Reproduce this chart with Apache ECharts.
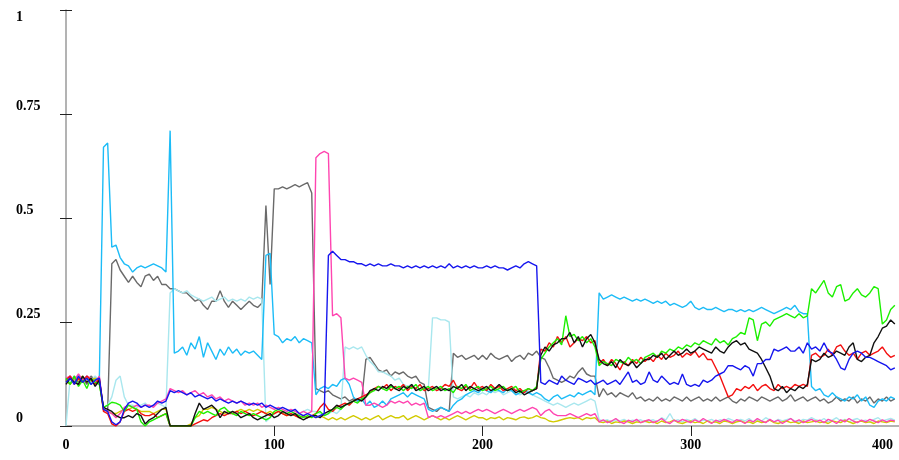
<!DOCTYPE html>
<html>
<head>
<meta charset="utf-8">
<script src="https://cdn.jsdelivr.net/npm/echarts@6/dist/echarts.min.js"></script>
<style>
  html, body { margin: 0; padding: 0; background: #ffffff; }
  #chart { width: 899px; height: 460px; }
</style>
</head>
<body>
<div id="chart"></div>
<script>
// Samples are taken every 2 steps, from step 0 to step 398.
const xStep = 2;
const xTickLabels = [0, 100, 200, 300, 400];
const yTickLabels = [0, 0.25, 0.5, 0.75, 1];

const skyBlue = [
  0.11,0.12,0.105,0.115,0.11,0.12,0.1,0.115,0.11,0.67,0.68,0.43,0.435,0.405,0.39,0.385,0.37,0.38,0.385,0.38,
  0.385,0.39,0.385,0.38,0.37,0.71,0.175,0.18,0.19,0.17,0.2,0.185,0.215,0.165,0.2,0.18,0.16,0.185,0.17,0.19,
  0.175,0.185,0.17,0.18,0.175,0.18,0.17,0.16,0.41,0.415,0.22,0.215,0.2,0.21,0.205,0.215,0.2,0.21,0.205,0.2,
  0.075,0.09,0.095,0.09,0.1,0.095,0.11,0.115,0.1,0.07,0.06,0.065,0.05,0.06,0.045,0.05,0.06,0.05,0.065,0.07,
  0.075,0.08,0.07,0.08,0.075,0.07,0.065,0.04,0.035,0.04,0.045,0.04,0.035,0.05,0.06,0.065,0.075,0.08,0.085,0.08,
  0.09,0.085,0.08,0.09,0.085,0.08,0.09,0.085,0.075,0.08,0.085,0.08,0.075,0.08,0.075,0.065,0.06,0.07,0.075,0.065,
  0.07,0.075,0.07,0.08,0.075,0.08,0.085,0.075,0.32,0.305,0.31,0.315,0.31,0.305,0.31,0.305,0.3,0.305,0.3,0.305,
  0.3,0.295,0.3,0.295,0.3,0.29,0.295,0.29,0.285,0.29,0.3,0.285,0.28,0.285,0.28,0.28,0.285,0.28,0.275,0.28,
  0.28,0.275,0.28,0.275,0.28,0.275,0.28,0.285,0.28,0.275,0.27,0.275,0.28,0.285,0.28,0.29,0.275,0.27,0.27,0.095,
  0.085,0.09,0.075,0.07,0.08,0.07,0.065,0.06,0.07,0.065,0.075,0.06,0.07,0.05,0.045,0.06,0.065,0.06,0.07,0.065
];

const grey = [
  0.11,0.1,0.12,0.105,0.115,0.1,0.12,0.11,0.105,0.04,0.035,0.39,0.4,0.375,0.36,0.345,0.36,0.345,0.335,0.36,
  0.365,0.35,0.36,0.34,0.34,0.33,0.33,0.325,0.32,0.32,0.31,0.3,0.305,0.29,0.28,0.3,0.3,0.325,0.3,0.285,
  0.3,0.29,0.28,0.29,0.3,0.29,0.285,0.295,0.53,0.34,0.57,0.57,0.575,0.57,0.575,0.58,0.575,0.58,0.585,0.56,
  0.09,0.085,0.08,0.085,0.075,0.07,0.065,0.07,0.06,0.065,0.06,0.065,0.16,0.165,0.15,0.135,0.13,0.135,0.12,0.13,
  0.125,0.13,0.12,0.115,0.12,0.105,0.1,0.045,0.04,0.035,0.045,0.04,0.035,0.175,0.165,0.17,0.16,0.165,0.17,0.16,
  0.17,0.16,0.175,0.165,0.16,0.165,0.17,0.155,0.165,0.17,0.16,0.175,0.17,0.18,0.165,0.16,0.14,0.115,0.11,0.105,
  0.11,0.12,0.115,0.13,0.14,0.125,0.12,0.12,0.07,0.09,0.075,0.08,0.07,0.08,0.075,0.07,0.08,0.065,0.07,0.06,
  0.065,0.06,0.07,0.06,0.065,0.06,0.07,0.065,0.06,0.07,0.06,0.065,0.07,0.06,0.065,0.06,0.07,0.06,0.065,0.07,
  0.06,0.055,0.065,0.06,0.07,0.065,0.06,0.07,0.065,0.06,0.065,0.07,0.06,0.065,0.075,0.06,0.065,0.07,0.06,0.065,
  0.07,0.06,0.065,0.055,0.06,0.07,0.06,0.065,0.06,0.07,0.055,0.065,0.06,0.07,0.055,0.065,0.06,0.07,0.06,0.065
];

const paleCyan = [
  0,0.115,0.11,0.12,0.105,0.115,0.11,0.12,0.11,0.045,0.05,0.07,0.11,0.12,0.07,0.05,0.05,0.045,0.05,0.055,
  0.045,0.05,0.055,0.05,0.045,0.32,0.33,0.325,0.32,0.325,0.315,0.31,0.305,0.3,0.305,0.31,0.3,0.305,0.31,0.3,
  0.305,0.3,0.305,0.3,0.31,0.305,0.31,0.305,0.01,0.02,0.03,0.035,0.03,0.035,0.03,0.035,0.03,0.035,0.04,0.035,
  0.035,0.03,0.025,0.03,0.035,0.03,0.04,0.19,0.185,0.19,0.185,0.19,0.17,0.155,0.145,0.13,0.13,0.125,0.12,0.11,
  0.115,0.1,0.095,0.1,0.09,0.085,0.09,0.09,0.26,0.26,0.255,0.255,0.25,0.07,0.065,0.07,0.075,0.07,0.08,0.075,
  0.08,0.075,0.085,0.08,0.085,0.075,0.08,0.085,0.08,0.075,0.08,0.085,0.075,0.07,0.065,0.06,0.055,0.05,0.055,0.05,
  0.045,0.05,0.055,0.05,0.055,0.06,0.065,0.06,0.015,0.012,0.015,0.01,0.015,0.012,0.016,0.01,0.014,0.012,0.015,0.01,
  0.012,0.015,0.01,0.02,0.014,0.03,0.012,0.015,0.01,0.016,0.012,0.018,0.01,0.014,0.012,0.016,0.01,0.015,0.012,0.018,
  0.014,0.01,0.016,0.012,0.018,0.01,0.015,0.012,0.02,0.014,0.01,0.016,0.012,0.015,0.018,0.012,0.01,0.016,0.014,0.02,
  0.015,0.012,0.018,0.01,0.014,0.02,0.012,0.016,0.01,0.015,0.018,0.012,0.014,0.01,0.016,0.02,0.012,0.015,0.018,0.014
];

const pink = [
  0.115,0.12,0.11,0.125,0.11,0.12,0.115,0.105,0.12,0.04,0.035,0.03,0.02,0.03,0.045,0.05,0.045,0.05,0.045,0.05,
  0.05,0.045,0.055,0.06,0.065,0.09,0.085,0.08,0.085,0.075,0.08,0.085,0.075,0.08,0.07,0.075,0.065,0.07,0.06,0.065,
  0.06,0.055,0.06,0.05,0.055,0.05,0.055,0.045,0.05,0.045,0.04,0.045,0.04,0.035,0.04,0.035,0.03,0.035,0.03,0.035,
  0.645,0.655,0.66,0.655,0.265,0.27,0.26,0.115,0.11,0.115,0.11,0.105,0.05,0.05,0.055,0.05,0.045,0.05,0.06,0.055,
  0.06,0.055,0.06,0.05,0.055,0.05,0.055,0.02,0.025,0.02,0.025,0.02,0.025,0.03,0.035,0.03,0.035,0.03,0.035,0.04,
  0.035,0.04,0.035,0.03,0.035,0.04,0.035,0.03,0.035,0.04,0.035,0.04,0.045,0.04,0.025,0.035,0.04,0.03,0.025,0.025,
  0.025,0.03,0.025,0.02,0.025,0.03,0.025,0.03,0.01,0.015,0.008,0.012,0.018,0.01,0.006,0.014,0.01,0.016,0.008,0.012,
  0.015,0.008,0.012,0.018,0.01,0.006,0.014,0.01,0.016,0.012,0.008,0.015,0.01,0.018,0.012,0.006,0.014,0.01,0.016,0.012,
  0.008,0.015,0.012,0.006,0.014,0.01,0.018,0.012,0.008,0.016,0.01,0.014,0.006,0.012,0.018,0.01,0.015,0.008,0.012,0.016,
  0.01,0.014,0.008,0.016,0.012,0.006,0.015,0.01,0.018,0.012,0.008,0.014,0.01,0.016,0.012,0.008,0.015,0.01,0.014,0.012
];

const blue = [
  0.105,0.115,0.1,0.12,0.105,0.115,0.1,0.11,0.115,0.04,0.035,0.01,0.003,0.01,0.04,0.055,0.06,0.055,0.045,0.05,
  0.045,0.05,0.06,0.055,0.06,0.085,0.08,0.085,0.08,0.075,0.08,0.07,0.075,0.07,0.065,0.07,0.06,0.065,0.06,0.055,
  0.06,0.055,0.06,0.055,0.05,0.055,0.05,0.055,0.045,0.05,0.045,0.04,0.045,0.04,0.035,0.04,0.03,0.025,0.03,0.025,
  0.02,0.025,0.03,0.41,0.42,0.41,0.4,0.4,0.395,0.395,0.39,0.39,0.385,0.39,0.385,0.39,0.385,0.385,0.39,0.385,
  0.385,0.38,0.385,0.38,0.385,0.38,0.385,0.38,0.385,0.38,0.385,0.38,0.39,0.38,0.385,0.38,0.385,0.38,0.385,0.38,
  0.38,0.385,0.38,0.385,0.38,0.38,0.375,0.38,0.385,0.38,0.39,0.395,0.39,0.385,0.105,0.1,0.11,0.105,0.1,0.12,
  0.11,0.105,0.1,0.115,0.11,0.105,0.11,0.1,0.105,0.11,0.1,0.105,0.11,0.1,0.115,0.13,0.105,0.11,0.1,0.105,
  0.13,0.11,0.105,0.12,0.11,0.1,0.105,0.1,0.125,0.1,0.095,0.1,0.095,0.11,0.105,0.11,0.12,0.125,0.13,0.145,
  0.145,0.14,0.135,0.145,0.14,0.12,0.15,0.15,0.16,0.16,0.185,0.18,0.185,0.19,0.18,0.18,0.19,0.175,0.2,0.185,
  0.19,0.18,0.2,0.18,0.175,0.16,0.14,0.135,0.16,0.175,0.18,0.175,0.165,0.165,0.16,0.155,0.15,0.145,0.135,0.14
];

const red = [
  0.11,0.12,0.1,0.115,0.105,0.12,0.11,0.1,0.115,0.035,0.03,0.005,0,0.01,0.035,0.04,0.035,0.04,0.03,0.025,
  0.025,0.03,0.02,0.025,0.03,0,0,0,0,0,0,0.005,0.01,0.015,0.012,0.02,0.025,0.03,0.025,0.03,
  0.03,0.035,0.03,0.035,0.03,0.025,0.03,0.035,0.03,0.025,0.03,0.035,0.03,0.025,0.03,0.025,0.02,0.025,0.02,0.025,
  0.03,0.045,0.055,0.04,0.035,0.045,0.05,0.055,0.05,0.06,0.065,0.07,0.075,0.08,0.09,0.095,0.09,0.1,0.085,0.095,
  0.09,0.1,0.085,0.095,0.09,0.1,0.085,0.09,0.095,0.085,0.09,0.1,0.095,0.11,0.09,0.085,0.095,0.09,0.105,0.09,
  0.095,0.085,0.1,0.09,0.095,0.085,0.09,0.095,0.085,0.09,0.08,0.09,0.085,0.09,0.185,0.18,0.2,0.19,0.215,0.2,
  0.215,0.19,0.2,0.21,0.205,0.215,0.2,0.205,0.15,0.16,0.145,0.16,0.15,0.135,0.155,0.145,0.16,0.15,0.165,0.155,
  0.165,0.155,0.17,0.16,0.175,0.165,0.17,0.18,0.165,0.175,0.17,0.18,0.165,0.175,0.16,0.16,0.14,0.12,0.095,0.07,
  0.075,0.09,0.085,0.095,0.09,0.1,0.085,0.095,0.1,0.09,0.085,0.1,0.09,0.095,0.09,0.1,0.095,0.1,0.095,0.17,
  0.175,0.165,0.17,0.185,0.17,0.19,0.195,0.18,0.17,0.175,0.16,0.175,0.18,0.17,0.175,0.18,0.19,0.175,0.165,0.17
];

const black = [
  0.1,0.115,0.105,0.1,0.12,0.105,0.115,0.095,0.11,0.045,0.04,0.035,0.025,0.02,0.02,0.025,0.02,0.03,0.025,0.005,
  0.015,0.02,0.03,0.04,0.045,0,0,0,0,0,0,0.03,0.055,0.04,0.045,0.05,0.04,0.02,0.035,0.03,
  0.035,0.03,0.02,0.025,0.03,0.02,0.015,0.02,0.025,0.03,0.02,0.025,0.035,0.03,0.025,0.03,0.02,0.015,0.02,0.025,
  0.025,0.02,0.03,0.035,0.04,0.05,0.045,0.05,0.055,0.06,0.065,0.06,0.07,0.085,0.09,0.085,0.095,0.09,0.1,0.09,
  0.085,0.095,0.09,0.1,0.085,0.09,0.095,0.085,0.09,0.095,0.085,0.09,0.085,0.095,0.09,0.1,0.085,0.095,0.09,0.085,
  0.09,0.095,0.085,0.09,0.1,0.09,0.085,0.09,0.08,0.085,0.075,0.08,0.085,0.09,0.17,0.19,0.18,0.195,0.2,0.21,
  0.21,0.225,0.2,0.215,0.19,0.21,0.22,0.2,0.16,0.15,0.145,0.155,0.14,0.16,0.15,0.145,0.155,0.14,0.15,0.16,
  0.16,0.17,0.165,0.175,0.16,0.17,0.18,0.17,0.175,0.185,0.175,0.18,0.19,0.185,0.18,0.175,0.19,0.18,0.175,0.19,
  0.2,0.205,0.195,0.2,0.185,0.18,0.175,0.16,0.14,0.12,0.09,0.085,0.095,0.08,0.09,0.085,0.095,0.09,0.1,0.16,
  0.155,0.16,0.175,0.165,0.17,0.18,0.175,0.17,0.19,0.2,0.16,0.155,0.165,0.17,0.2,0.215,0.235,0.24,0.255,0.245
];

const green = [
  0.115,0.1,0.12,0.095,0.11,0.09,0.115,0.105,0.1,0.045,0.05,0.057,0.055,0.05,0.035,0.05,0.045,0.04,0.01,0,
  0.01,0.015,0.02,0.025,0.03,0,0,0,0,0,0,0.02,0.035,0.03,0.035,0.03,0.025,0.04,0.045,0.035,
  0.03,0.025,0.035,0.03,0.025,0.03,0.025,0.02,0.015,0.02,0.035,0.04,0.035,0.03,0.035,0.03,0.025,0.02,0.025,0.02,
  0.03,0.035,0.025,0.03,0.04,0.045,0.04,0.05,0.055,0.06,0.055,0.065,0.07,0.08,0.085,0.095,0.09,0.085,0.095,0.09,
  0.095,0.085,0.095,0.09,0.1,0.085,0.09,0.095,0.085,0.09,0.095,0.085,0.09,0.08,0.095,0.09,0.1,0.085,0.09,0.095,
  0.085,0.09,0.095,0.085,0.09,0.095,0.085,0.09,0.095,0.08,0.085,0.09,0.085,0.095,0.16,0.175,0.19,0.2,0.21,0.195,
  0.265,0.215,0.22,0.205,0.215,0.2,0.21,0.19,0.145,0.155,0.15,0.145,0.16,0.155,0.15,0.165,0.155,0.16,0.15,0.165,
  0.17,0.175,0.165,0.18,0.175,0.185,0.18,0.19,0.185,0.195,0.19,0.2,0.195,0.205,0.2,0.195,0.21,0.2,0.205,0.195,
  0.21,0.215,0.225,0.22,0.26,0.255,0.205,0.245,0.25,0.24,0.255,0.26,0.265,0.27,0.265,0.26,0.27,0.26,0.265,0.33,
  0.32,0.335,0.35,0.32,0.31,0.335,0.34,0.3,0.305,0.32,0.33,0.315,0.31,0.32,0.335,0.33,0.245,0.255,0.28,0.29
];

const yellow = [
  0.11,0.1,0.115,0.11,0.12,0.105,0.11,0.115,0.105,0.04,0.035,0.03,0.03,0.035,0.04,0.04,0.045,0.04,0.035,0.035,
  0.035,0.03,0.035,0.04,0.04,0,0,0,0,0,0.005,0.02,0.025,0.04,0.04,0.045,0.04,0.035,0.03,0.035,
  0.03,0.035,0.04,0.035,0.04,0.035,0.04,0.035,0.03,0.035,0.03,0.035,0.03,0.025,0.03,0.025,0.02,0.025,0.02,0.025,
  0.02,0.025,0.02,0.015,0.02,0.015,0.02,0.015,0.02,0.025,0.02,0.015,0.02,0.015,0.02,0.025,0.015,0.02,0.025,0.02,
  0.02,0.025,0.015,0.02,0.025,0.02,0.015,0.02,0.025,0.02,0.015,0.02,0.015,0.02,0.025,0.02,0.015,0.02,0.025,0.02,
  0.02,0.015,0.02,0.018,0.022,0.015,0.02,0.018,0.015,0.02,0.022,0.018,0.02,0.025,0.02,0.018,0.012,0.01,0.012,0.015,
  0.018,0.02,0.018,0.02,0.015,0.02,0.018,0.02,0.01,0.008,0.012,0.006,0.01,0.008,0.012,0.01,0.006,0.01,0.008,0.012,
  0.008,0.01,0.006,0.012,0.008,0.01,0.014,0.008,0.006,0.01,0.012,0.008,0.01,0.006,0.012,0.008,0.01,0.006,0.012,0.01,
  0.006,0.01,0.012,0.008,0.01,0.006,0.012,0.008,0.01,0.014,0.008,0.006,0.01,0.012,0.008,0.01,0.006,0.012,0.008,0.01,
  0.012,0.008,0.01,0.006,0.012,0.01,0.008,0.014,0.01,0.006,0.01,0.012,0.008,0.01,0.006,0.012,0.01,0.008,0.012,0.01
];

// Drawing order: later entries are painted on top.
const lines = [
  { name: 'grey', values: grey, color: '#6a6a6a' },
  { name: 'paleCyan', values: paleCyan, color: '#a9e7ee' },
  { name: 'skyBlue', values: skyBlue, color: '#1cbcf7' },
  { name: 'yellow', values: yellow, color: '#d2ca00' },
  { name: 'pink', values: pink, color: '#ff45b0' },
  { name: 'red', values: red, color: '#f41010' },
  { name: 'green', values: green, color: '#1cf000' },
  { name: 'black', values: black, color: '#111111' },
  { name: 'blue', values: blue, color: '#1616ee' }
];

const labelFont = { fontFamily: 'Liberation Serif', fontWeight: 'bold', fontSize: 14, color: '#000' };

const chart = echarts.init(document.getElementById('chart'), null, { renderer: 'canvas' });
chart.setOption({
  animation: false,
  backgroundColor: '#ffffff',
  grid: { left: 66, right: -5, top: 10, bottom: 34, containLabel: false },
  xAxis: {
    type: 'value',
    min: xTickLabels[0],
    max: xTickLabels[xTickLabels.length - 1],
    interval: 100,
    axisLine: { show: true, onZero: false, lineStyle: { color: '#9a9a9a', width: 1.5 } },
    axisTick: { show: true, length: 10, customValues: xTickLabels.slice(1, -1), lineStyle: { color: '#222', width: 1 } },
    splitLine: { show: false },
    axisLabel: Object.assign({
      margin: 12,
      formatter: v => v === 400 ? '{last|' + v + '}' : '{std|' + v + '}',
      rich: {
        std: Object.assign({}, labelFont),
        last: Object.assign({ padding: [0, 33, 0, 0] }, labelFont)
      }
    }, labelFont)
  },
  yAxis: [
    {
      type: 'value',
      min: yTickLabels[0],
      max: yTickLabels[yTickLabels.length - 1],
      interval: 0.25,
      axisLine: { show: true, lineStyle: { color: '#9a9a9a', width: 1.5 } },
      axisTick: { show: true, length: 6, lineStyle: { color: '#222', width: 1 } },
      splitLine: { show: false },
      axisLabel: Object.assign({
        margin: 50,
        align: 'left',
        verticalAlign: 'middle',
        formatter: v => v === 1 ? '{top|1}' : '{std|' + v + '}',
        rich: {
          std: Object.assign({ padding: [0, 0, 16, 0] }, labelFont),
          top: Object.assign({ padding: [14, 0, 0, 0] }, labelFont)
        }
      }, labelFont)
    },
    {
      type: 'value',
      position: 'left',
      min: yTickLabels[0],
      max: yTickLabels[yTickLabels.length - 1],
      interval: 0.25,
      axisLine: { show: false },
      axisTick: { show: true, inside: true, length: 6, lineStyle: { color: '#222', width: 1 } },
      axisLabel: { show: false },
      splitLine: { show: false }
    }
  ],
  series: lines.map(l => ({
    name: l.name,
    type: 'line',
    yAxisIndex: 0,
    showSymbol: false,
    symbol: 'none',
    silent: true,
    lineStyle: { color: l.color, width: 1.4 },
    data: l.values.map((v, i) => [i * xStep, v])
  }))
});
</script>
</body>
</html>
